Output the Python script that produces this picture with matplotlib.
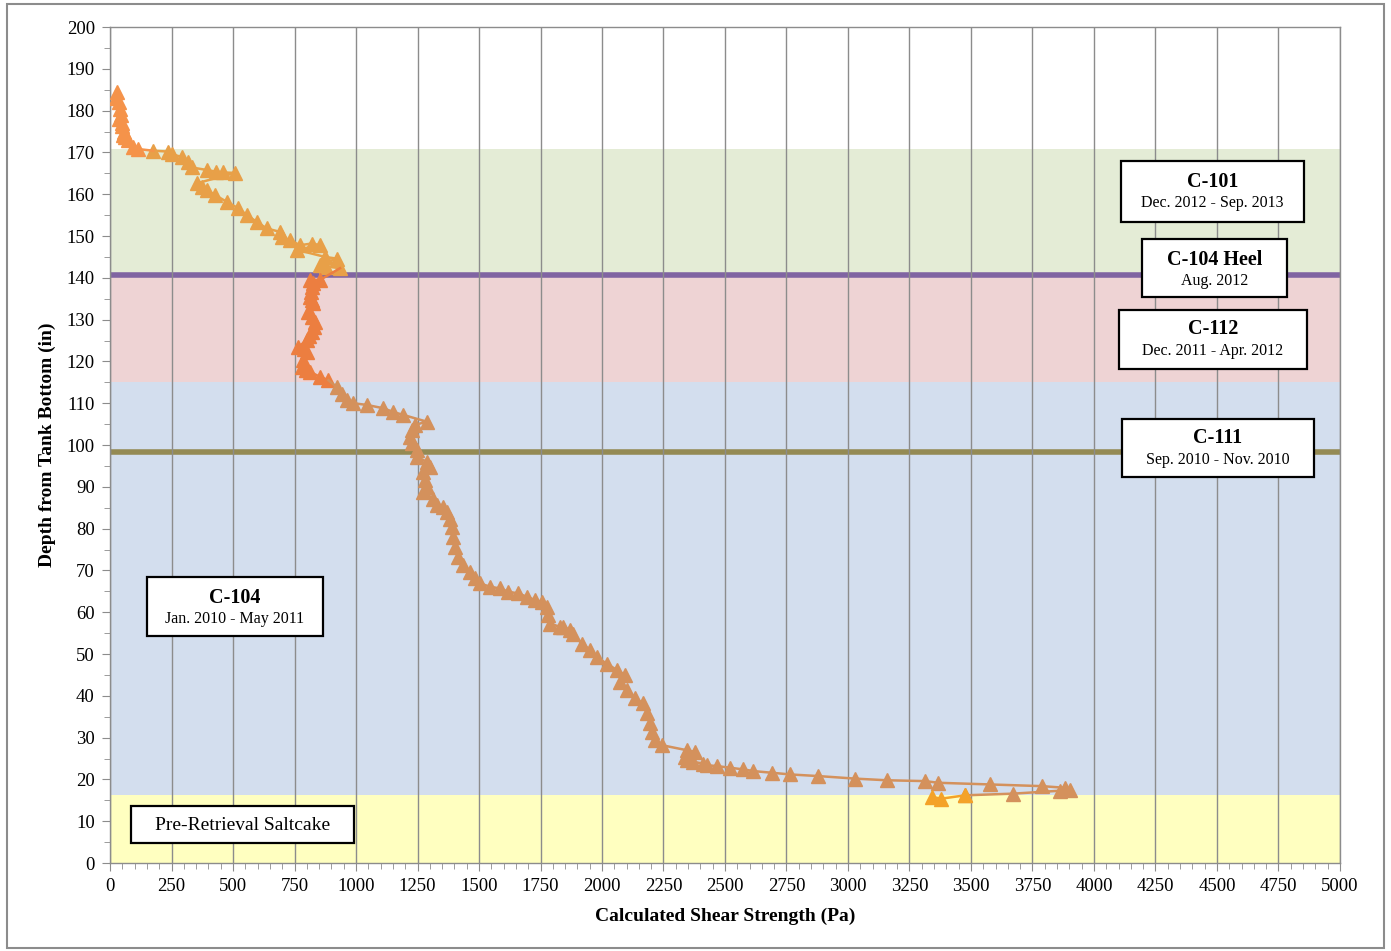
import matplotlib
matplotlib.use("Agg")
import matplotlib.pyplot as plt
from matplotlib.patches import Rectangle
from matplotlib.ticker import MultipleLocator

# Shear strength (Pa) vs. depth from tank bottom (in), grouped by campaign
upper_x = [30, 25, 35, 40, 45, 38, 50, 47, 55, 53, 62, 74, 94, 115]
upper_y = [184.5, 183, 182, 180.5, 179, 178, 177, 176.2, 175, 174.2, 173.6, 173, 171.4, 170.8]

c101_x = [176, 237, 251, 291, 318, 332, 393, 430, 460, 508, 352, 372, 393, 427, 474,
          522, 556, 596, 637, 691, 698, 732, 772, 820, 854, 759, 874, 921, 854, 880, 935]
c101_y = [170.4, 170.2, 169.6, 168.9, 167.8, 166.4, 165.8, 165.4, 165.2, 165.1, 162.6,
          161.8, 161.0, 159.8, 158.2, 156.6, 155.0, 153.4, 151.8, 151.0, 149.8, 149.0,
          147.8, 148.2, 147.8, 146.7, 145.0, 144.6, 143.1, 142.7, 142.3]

c112_x = [854, 813, 827, 820, 815, 813, 820, 827, 806, 822, 833, 828, 820, 810, 800, 766,
          790, 800, 786, 779, 795, 813, 854, 888]
c112_y = [139.5, 139.5, 138.7, 137.9, 136.5, 135.5, 134.7, 133.9, 131.9, 130.7, 129.5,
          128.3, 127.1, 126.1, 125.1, 123.5, 122.9, 122.3, 120.3, 118.7, 118.0, 117.5,
          116.3, 115.5]

c104_x = [921, 942, 962, 989, 1043, 1111, 1152, 1192, 1287, 1240, 1226, 1220, 1226, 1247,
          1247, 1287, 1301, 1274, 1280, 1287, 1274, 1314, 1328, 1355, 1369, 1382, 1389,
          1395, 1402, 1416, 1436, 1463, 1484, 1504, 1545, 1585, 1619, 1660, 1694, 1728,
          1755, 1775, 1782, 1789, 1829, 1843, 1870, 1883, 1917, 1951, 1978, 2019, 2060,
          2093, 2073, 2100, 2134, 2168, 2182, 2195, 2202, 2215, 2243, 2344, 2378, 2337,
          2344, 2371, 2412, 2426, 2466, 2520, 2575, 2615, 2690, 2764, 2880, 3028, 3157,
          3313, 3367, 3577, 3787, 3882, 3902, 3862, 3672, 3476]
c104_y = [113.9, 112.3, 110.7, 110.0, 109.6, 108.8, 107.9, 107.2, 105.6, 104.8, 103.6,
          102.0, 100.4, 98.8, 97.2, 96.0, 94.8, 93.6, 91.6, 90.0, 88.8, 87.2, 85.6, 85.2,
          84.0, 82.4, 80.4, 78.0, 75.7, 73.3, 71.3, 69.7, 68.1, 66.9, 66.1, 65.7, 64.9,
          64.5, 63.7, 62.9, 62.5, 61.3, 59.3, 57.3, 56.5, 56.5, 55.7, 54.9, 52.5, 51.0,
          49.3, 47.7, 46.2, 45.0, 43.4, 41.4, 39.4, 38.2, 35.8, 33.4, 31.4, 29.4, 28.2,
          27.0, 26.6, 25.4, 24.6, 24.2, 23.8, 23.4, 23.2, 22.8, 22.4, 22.0, 21.6, 21.2,
          20.8, 20.2, 19.8, 19.6, 19.2, 18.8, 18.4, 18.0, 17.5, 17.3, 16.6, 16.2]

base_x = [3476, 3380, 3340]
base_y = [16.2, 15.4, 15.8]

# Depth bands (in)
bands = [(0, 16.2, "#FFFFC0"), (16.2, 115.1, "#D3DEEE"),
         (115.1, 140.7, "#EED3D4"), (140.7, 170.8, "#E4ECD6")]
c104_heel_level = 140.7
c111_level = 98.4

x_ticks = list(range(0, 5001, 250))
y_ticks = list(range(0, 201, 10))

plt.rcParams["font.family"] = ["Liberation Serif", "DejaVu Serif"]

fig = plt.figure(figsize=(13.91, 9.51), dpi=100)
ax = fig.add_axes([0.0791, 0.0925, 0.8842, 0.8791])

for lo, hi, col in bands:
    ax.axhspan(lo, hi, color=col, zorder=0, lw=0)

ax.axhline(c104_heel_level, color="#8064A2", lw=4, zorder=2)
ax.axhline(c111_level, color="#948A54", lw=4, zorder=2)

series = [
    (upper_x, upper_y, "#F5934A"),
    (c101_x, c101_y, "#E8A048"),
    (c112_x, c112_y, "#EC7E40"),
    (c104_x, c104_y, "#D4915C"),
    (base_x, base_y, "#F4A228"),
]
for xs, ys, col in series:
    ax.plot(xs, ys, color=col, lw=1.8, marker="^", ms=10, mec=col, mfc=col, zorder=3)
# links between consecutive campaigns
ax.plot([upper_x[-1], c101_x[0]], [upper_y[-1], c101_y[0]], color="#F5934A", lw=1.8, zorder=3)
ax.plot([c101_x[-1], c112_x[0]], [c101_y[-1], c112_y[0]], color="#EC7E40", lw=1.8, zorder=3)
ax.plot([c112_x[-1], c104_x[0]], [c112_y[-1], c104_y[0]], color="#D4915C", lw=1.8, zorder=3)
ax.plot([c104_x[-1], base_x[0]], [c104_y[-1], base_y[0]], color="#D4915C", lw=1.8, zorder=3)

ax.set_xlim(0, 5000)
ax.set_ylim(0, 200)
ax.set_xticks(x_ticks)
ax.set_yticks(y_ticks)
ax.xaxis.set_minor_locator(MultipleLocator(50))
ax.yaxis.set_minor_locator(MultipleLocator(5))
ax.grid(axis="x", which="major", color="#8C8C8C", lw=1.0, zorder=1)
ax.set_axisbelow(False)
ax.tick_params(axis="both", which="major", direction="out", length=6, color="#8C8C8C",
               labelsize=13.5, pad=5)
ax.tick_params(axis="both", which="minor", direction="out", length=4, color="#8C8C8C")
for s in ["left", "bottom", "top", "right"]:
    ax.spines[s].set_color("#8C8C8C")
    ax.spines[s].set_linewidth(1.0)

ax.set_xlabel("Calculated Shear Strength (Pa)", fontsize=14, fontweight="bold", labelpad=9)
ax.set_ylabel("Depth from Tank Bottom (in)", fontsize=14, fontweight="bold", labelpad=8)

# Campaign label boxes: (x0, x1, y0, y1, title, subtitle, title_y, sub_y)
boxes = [
    (4110, 4854, 153.3, 167.9, "C-101", "Dec. 2012 - Sep. 2013", 163.0, 157.9),
    (4195, 4785, 135.4, 149.3, "C-104 Heel", "Aug. 2012", 144.3, 139.2),
    (4102, 4866, 118.2, 132.3, "C-112", "Dec. 2011 - Apr. 2012", 127.8, 122.5),
    (4114, 4894, 92.3, 106.2, "C-111", "Sep. 2010 - Nov. 2010", 101.7, 96.4),
    (150, 866, 54.3, 68.4, "C-104", "Jan. 2010 - May 2011", 63.4, 58.4),
]
for x0, x1, y0, y1, title, sub, ty, sy in boxes:
    ax.add_patch(Rectangle((x0, y0), x1 - x0, y1 - y0, facecolor="white",
                           edgecolor="black", lw=1.6, zorder=5))
    xm = (x0 + x1) / 2
    ax.text(xm, ty, title, ha="center", va="center", fontsize=14.5,
            fontweight="bold", zorder=6)
    ax.text(xm, sy, sub, ha="center", va="center", fontsize=11.5, zorder=6)

ax.add_patch(Rectangle((85, 4.8), 907, 8.8, facecolor="white", edgecolor="black",
                       lw=1.6, zorder=5))
ax.text(538, 9.0, "Pre-Retrieval Saltcake", ha="center", va="center", fontsize=14, zorder=6)

# outer frame
fig.patches.append(Rectangle((0.005, 0.003), 0.99, 0.993, transform=fig.transFigure,
                             fill=False, edgecolor="#8C8C8C", lw=1.5))

fig.savefig("out.png", dpi=100)
